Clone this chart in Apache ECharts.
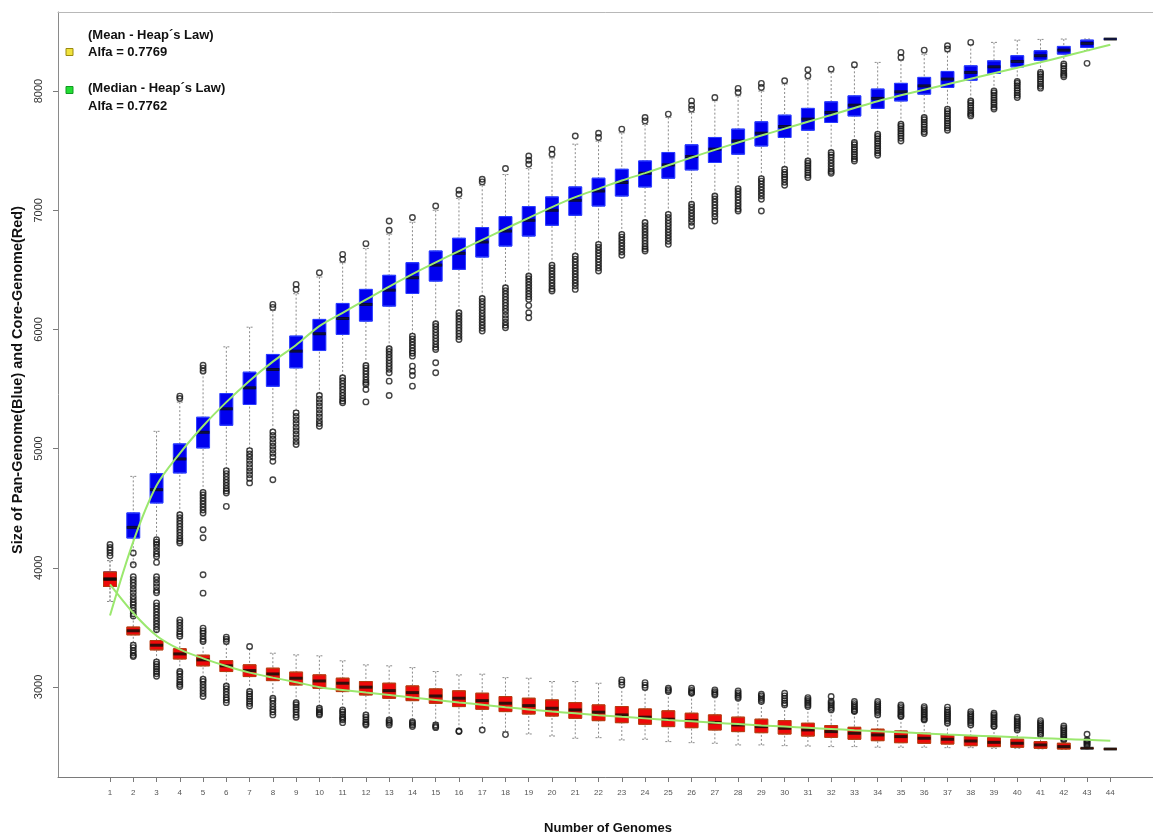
<!DOCTYPE html>
<html><head><meta charset="utf-8">
<script src="https://cdn.jsdelivr.net/npm/echarts@6/dist/echarts.min.js"></script>
<style>html,body{margin:0;padding:0;background:#fff;overflow:hidden}#c{width:1153px;height:834px}</style>
</head><body><div id="c"></div>
<script>
const genomes = [1,2,3,4,5,6,7,8,9,10,11,12,13,14,15,16,17,18,19,20,21,22,23,24,25,26,27,28,29,30,31,32,33,34,35,36,37,38,39,40,41,42,43,44];
const yTicks = [3000,4000,5000,6000,7000,8000];

// Pan-genome (blue) box statistics
const panMax = [4060,4767,5145,5390,5640,5854,6019,6160,6300,6440,6560,6680,6800,6900,7000,7100,7210,7300,7350,7440,7555,7580,7650,7720,7780,7820,7920,7960,8000,8060,8100,8160,8200,8241,8260,8310,8330,8390,8409,8428,8434,8437,8437,8437];
const panQ3  = [3964,4460,4790,5039,5263,5462,5641,5790,5944,6084,6218,6336,6454,6560,6658,6765,6855,6947,7031,7112,7196,7269,7344,7414,7485,7549,7611,7681,7742,7798,7855,7910,7960,8017,8065,8115,8165,8212,8254,8297,8339,8375,8428,8437];
const panMed = [3905,4339,4655,4913,5137,5334,5510,5664,5818,5964,6092,6210,6330,6434,6540,6639,6734,6826,6916,7000,7084,7162,7233,7311,7381,7451,7513,7582,7647,7703,7765,7821,7882,7939,7994,8044,8101,8157,8204,8249,8297,8344,8401,8437];
const panQ1  = [3843,4250,4544,4796,5006,5196,5370,5523,5678,5823,5958,6070,6196,6302,6406,6504,6608,6700,6784,6874,6958,7036,7120,7196,7269,7339,7401,7471,7540,7611,7672,7737,7792,7855,7918,7975,8031,8092,8149,8204,8260,8311,8367,8437];
const panMin = [3717,4030,4200,4460,4645,4830,5000,5155,5320,5460,5610,5710,5850,5960,6060,6155,6275,6365,6460,6550,6630,6730,6810,6910,6980,7060,7130,7195,7280,7360,7430,7500,7580,7650,7735,7790,7860,7930,8010,8090,8165,8235,8340,8437];

// Core-genome (red) box statistics
const coreMax = [4060,3590,3470,3410,3370,3360,3320,3283,3269,3261,3219,3185,3177,3162,3129,3101,3107,3078,3073,3045,3045,3031,3000,2975,2950,2935,2920,2895,2865,2840,2825,2800,2785,2755,2740,2715,2685,2670,2655,2630,2590,2545,2485,2479];
const coreQ3  = [3964,3502,3389,3320,3266,3221,3185,3157,3124,3101,3073,3045,3031,3008,2983,2967,2947,2919,2905,2891,2868,2849,2835,2815,2799,2779,2765,2746,2729,2717,2695,2675,2661,2645,2630,2611,2597,2583,2574,2561,2541,2527,2485,2479];
const coreMed = [3905,3471,3350,3277,3227,3177,3137,3109,3073,3050,3031,2998,2969,2952,2924,2905,2885,2863,2843,2821,2807,2788,2765,2746,2729,2717,2700,2681,2667,2653,2639,2625,2611,2597,2583,2569,2561,2546,2535,2527,2513,2499,2485,2479];
const coreQ1  = [3843,3437,3311,3235,3177,3129,3087,3053,3017,2989,2961,2933,2905,2885,2863,2835,2813,2793,2773,2756,2737,2717,2700,2687,2667,2658,2639,2625,2616,2605,2588,2577,2561,2549,2532,2527,2521,2507,2499,2494,2485,2479,2485,2479];
const coreMin = [3717,3370,3225,3140,3080,3020,2975,2915,2880,2835,2815,2780,2740,2720,2700,2645,2655,2625,2605,2588,2569,2574,2555,2561,2541,2532,2527,2513,2513,2507,2504,2499,2499,2494,2494,2494,2490,2490,2485,2485,2480,2479,2485,2479];

// Outliers per number of genomes
const panOutliers = [
[4,[5420,5440,4445,4420,4395,4370,4345,4320,4295,4270,4245,4225,4208]],
[5,[5650,5675,5700,4633,4610,4585,4560,4535,4510,4485,4460,4319,4252]],
[6,[4815,4790,4765,4740,4715,4690,4665,4645,4628,4515]],
[7,[4983,4955,4930,4900,4870,4840,4810,4780,4750,4712]],
[8,[6185,6210,5140,5110,5080,5050,5020,4990,4960,4930,4893,4739]],
[9,[6336,6378,5300,5270,5240,5210,5180,5150,5120,5090,5060,5034]],
[10,[6476,5445,5415,5385,5355,5325,5295,5265,5235,5210,5187]],
[11,[6588,6630,5594,5570,5545,5520,5495,5470,5445,5420,5400,5384]],
[12,[6720,5697,5675,5650,5625,5600,5575,5555,5538,5496,5392]],
[13,[6832,6910,5838,5815,5790,5765,5740,5715,5690,5665,5636,5566,5445]],
[14,[6939,5944,5920,5895,5870,5845,5820,5800,5776,5692,5650,5613,5524]],
[15,[7036,6048,6025,6000,5975,5950,5925,5900,5875,5850,5832,5720,5636]],
[16,[7134,7168,6140,6115,6090,6065,6040,6015,5990,5965,5940,5916]],
[17,[7238,7260,6260,6235,6210,6185,6160,6135,6110,6085,6060,6035,6010,5986]],
[18,[7350,6350,6325,6300,6275,6250,6225,6200,6175,6150,6120,6090,6060,6035,6014]],
[19,[7386,7420,7456,6448,6425,6400,6375,6350,6325,6300,6275,6252,6200,6140,6098]],
[20,[7470,7513,6540,6515,6490,6465,6440,6415,6390,6365,6340,6322]],
[21,[7624,6616,6590,6565,6540,6515,6490,6465,6440,6415,6390,6365,6336]],
[22,[7611,7647,6714,6690,6665,6640,6615,6590,6565,6540,6515,6490]],
[23,[7681,6798,6775,6750,6725,6700,6675,6650,6622]],
[24,[7750,7779,6897,6870,6845,6820,6795,6770,6745,6720,6695,6675,6658]],
[25,[7807,6966,6940,6915,6890,6865,6840,6815,6790,6765,6740,6714]],
[26,[7849,7880,7918,7050,7025,7000,6975,6950,6925,6900,6868]],
[27,[7947,7120,7095,7070,7045,7020,6995,6970,6945,6910]],
[28,[7989,8023,7182,7160,7135,7110,7085,7060,7035,7010,6994]],
[29,[8031,8065,7266,7245,7220,7195,7170,7145,7120,7092,6994]],
[30,[8087,7344,7320,7300,7280,7260,7235,7210]],
[31,[8128,8179,7414,7395,7375,7355,7335,7315,7295,7275]],
[32,[8185,7485,7465,7445,7420,7395,7370,7345,7325,7311]],
[33,[8221,7569,7550,7530,7510,7490,7470,7450,7430,7414]],
[34,[7639,7620,7600,7580,7560,7540,7520,7500,7480,7462]],
[35,[8283,8325,7723,7705,7685,7665,7645,7625,7605,7582]],
[36,[8344,7779,7760,7740,7720,7700,7680,7660,7644]],
[37,[8353,8381,7849,7830,7810,7790,7770,7750,7730,7710,7690,7672]],
[38,[8409,7918,7900,7880,7860,7840,7820,7805,7792]],
[39,[8002,7985,7965,7945,7925,7905,7885,7865,7849]],
[40,[8081,8065,8045,8025,8005,7985,7965,7947]],
[41,[8157,8140,8120,8100,8080,8060,8040,8025]],
[42,[8227,8210,8190,8170,8150,8135,8120]],
[43,[8233]]
];
const coreOutliers = [
[1,[4195,4170,4150,4125,4100]],
[2,[4124,4025,3925,3900,3875,3850,3820,3790,3760,3735,3710,3690,3665,3640,3615,3595,3350,3330,3305,3285,3265,3255]],
[3,[4235,4215,4195,4170,4140,4115,4095,4045,3925,3900,3870,3840,3810,3790,3705,3680,3655,3630,3605,3580,3555,3530,3505,3480,3210,3190,3170,3150,3130,3110,3090]],
[4,[3563,3540,3515,3490,3465,3445,3425,3129,3110,3085,3060,3040,3020,3003]],
[5,[3941,3787,3493,3470,3450,3425,3400,3381,3065,3045,3020,2995,2970,2945,2919]],
[6,[3418,3400,3381,3008,2985,2960,2935,2910,2890,2868]],
[7,[3339,2961,2940,2920,2900,2880,2860,2840]],
[8,[2905,2885,2860,2835,2810,2790,2765]],
[9,[2868,2850,2830,2810,2790,2765,2746]],
[10,[2821,2805,2790,2775,2765]],
[11,[2807,2790,2770,2750,2735,2723,2700]],
[12,[2765,2745,2725,2705,2690,2681]],
[13,[2723,2710,2695,2681]],
[14,[2709,2695,2680,2667]],
[15,[2680,2668,2658]],
[16,[2630,2625]],
[17,[2639]],
[18,[2600]],
[23,[3059,3040,3017]],
[24,[3036,3015,2995]],
[25,[2989,2975,2961]],
[26,[2989,2970,2955,2947]],
[27,[2975,2960,2945,2933]],
[28,[2967,2950,2935,2920,2905]],
[29,[2939,2925,2910,2895,2877]],
[30,[2947,2925,2905,2885,2865,2849]],
[31,[2910,2895,2880,2865,2850,2835]],
[32,[2919,2880,2865,2850,2835,2820,2807]],
[33,[2877,2860,2845,2830,2815,2800,2793]],
[34,[2877,2860,2845,2830,2815,2800,2785,2765]],
[35,[2849,2835,2820,2805,2790,2775,2760,2751]],
[36,[2835,2820,2805,2790,2775,2760,2745,2730,2723]],
[37,[2830,2807,2790,2775,2760,2745,2730,2715,2695]],
[38,[2793,2775,2760,2745,2730,2715,2700,2681]],
[39,[2779,2765,2750,2735,2720,2705,2690,2675,2667]],
[40,[2746,2730,2715,2700,2685,2670,2655,2639]],
[41,[2717,2700,2685,2670,2655,2640,2625,2610,2597]],
[42,[2672,2655,2640,2625,2610,2595,2580,2565,2555]],
[43,[2603,2555,2545,2535,2525,2515,2505]]
];

// Heap's law fitted curves
const panFit  = [3600,4220,4690,4960,5190,5390,5570,5730,5870,6028,6140,6250,6360,6465,6563,6658,6752,6845,6937,7027,7110,7180,7250,7312,7378,7443,7507,7569,7627,7685,7743,7800,7858,7915,7965,8012,8058,8104,8150,8196,8242,8290,8340,8389];
const coreFit = [3860,3620,3430,3315,3240,3175,3120,3078,3040,2998,2975,2953,2932,2911,2891,2870,2850,2830,2811,2793,2778,2763,2749,2736,2723,2711,2699,2688,2677,2667,2657,2647,2637,2628,2619,2610,2601,2593,2585,2577,2570,2563,2556,2549];

const FONT = "'Liberation Sans', Arial, sans-serif";
const xMin = -1.236, xMax = 46.05;

function whiskerRows(mn,q1,md,q3,mx){return genomes.map((g,i)=>[g,mn[i],q1[i],md[i],q3[i],mx[i]]);}
function boxRows(q1,md,q3){return genomes.map((g,i)=>[g,q1[i],q1[i],md[i],q3[i],q3[i]]);}
function medRows(md){return genomes.map((g,i)=>[g,md[i]]);}
function outRows(list){const r=[];list.forEach(([g,vs])=>vs.forEach(v=>r.push([g,v])));return r;}
function fitRows(f){return genomes.map((g,i)=>[g,f[i]]);}
function hiddenX(){return {type:'value', min:xMin, max:xMax, show:false, position:'bottom'};}

const whiskerStyle = {color:'rgba(0,0,0,0)', borderColor:'#8a8a8a', borderWidth:1, borderType:[2,2]};
const outStyle = {color:'rgba(0,0,0,0)', borderColor:'#161616', borderWidth:1.4};
const LEG = "bold 13px 'Liberation Sans', Arial, sans-serif";

const chart = echarts.init(document.getElementById('c'), null, {renderer:'canvas', width:1153, height:834});
chart.setOption({
  animation:false,
  backgroundColor:'#fff',
  textStyle:{fontFamily:FONT},
  grid:{left:58, top:12, right:-5, bottom:57, containLabel:false, outerBoundsMode:'none'},
  xAxis:[{
    type:'value', min:xMin, max:xMax, position:'bottom',
    name:'Number of Genomes', nameLocation:'middle', nameGap:45,
    nameTextStyle:{fontFamily:FONT, fontWeight:'bold', fontSize:13, color:'#111'},
    axisLine:{show:true, onZero:false, lineStyle:{color:'#7a7a7a', width:1}},
    axisTick:{show:true, length:5, customValues:genomes, lineStyle:{color:'#7a7a7a'}},
    axisLabel:{show:true, customValues:genomes, fontSize:8, color:'#555', margin:12, fontFamily:FONT},
    splitLine:{show:false}
  },{
    type:'value', min:xMin, max:xMax, position:'top',
    axisLine:{show:true, onZero:false, lineStyle:{color:'#b8b8b8', width:1}},
    axisTick:{show:false}, axisLabel:{show:false}, splitLine:{show:false}
  }, hiddenX(), hiddenX(), hiddenX(), hiddenX()],
  yAxis:{
    type:'value', min:2244, max:8664,
    axisLine:{show:true, onZero:false, lineStyle:{color:'#8a8a8a', width:1}},
    axisTick:{show:true, length:5, customValues:yTicks, lineStyle:{color:'#7a7a7a'}},
    axisLabel:{show:true, customValues:yTicks, rotate:90, fontSize:11, color:'#333', margin:14, fontFamily:FONT, formatter:(v)=>String(v)},
    splitLine:{show:false}
  },
  series:[
    {type:'boxplot', layout:'horizontal', xAxisIndex:2, name:'panWhisker', data:whiskerRows(panMin,panQ1,panMed,panQ3,panMax), boxWidth:[6,6], itemStyle:whiskerStyle, silent:true},
    {type:'boxplot', layout:'horizontal', xAxisIndex:3, name:'coreWhisker', data:whiskerRows(coreMin,coreQ1,coreMed,coreQ3,coreMax), boxWidth:[6,6], itemStyle:whiskerStyle, silent:true},
    {type:'scatter', name:'panOut', data:outRows(panOutliers), symbol:'circle', symbolSize:5.5, itemStyle:outStyle, silent:true},
    {type:'scatter', name:'coreOut', data:outRows(coreOutliers), symbol:'circle', symbolSize:5.5, itemStyle:outStyle, silent:true},
    {type:'boxplot', layout:'horizontal', xAxisIndex:4, name:'panBox', data:boxRows(panQ1,panMed,panQ3), boxWidth:[13,13], itemStyle:{color:'#0000ee', borderColor:'#2a3cff', borderWidth:1}, silent:true},
    {type:'boxplot', layout:'horizontal', xAxisIndex:5, name:'coreBox', data:boxRows(coreQ1,coreMed,coreQ3), boxWidth:[13,13], itemStyle:{color:'#ee0a0a', borderColor:'#b83a10', borderWidth:1}, silent:true},
    {type:'scatter', name:'panMedian', data:medRows(panMed), symbol:'rect', symbolSize:[13,3], itemStyle:{color:'#0a0a0a'}, silent:true},
    {type:'scatter', name:'coreMedian', data:medRows(coreMed), symbol:'rect', symbolSize:[13,3], itemStyle:{color:'#0a0a0a'}, silent:true},
    {type:'line', name:'panFit', data:fitRows(panFit), smooth:0.3, showSymbol:false, lineStyle:{color:'#9be86e', width:2}, silent:true},
    {type:'line', name:'coreFit', data:fitRows(coreFit), smooth:0.3, showSymbol:false, lineStyle:{color:'#9be86e', width:2}, silent:true}
  ],
  graphic:[
    {type:'text', x:18, y:380, rotation:Math.PI/2, style:{text:'Size of Pan-Genome(Blue) and Core-Genome(Red)', font:"bold 14.5px 'Liberation Sans', Arial, sans-serif", fill:'#111', align:'center', verticalAlign:'middle'}},
    {type:'rect', shape:{x:66, y:48.5, width:7, height:7}, style:{fill:'#f0e23c', stroke:'#9a8a10', lineWidth:1}},
    {type:'text', x:88, y:35, style:{text:'(Mean - Heap´s Law)', font:LEG, fill:'#111', verticalAlign:'middle'}},
    {type:'text', x:88, y:52, style:{text:'Alfa = 0.7769', font:LEG, fill:'#111', verticalAlign:'middle'}},
    {type:'rect', shape:{x:66, y:86.5, width:7, height:7}, style:{fill:'#22dd33', stroke:'#119922', lineWidth:1}},
    {type:'text', x:88, y:88, style:{text:'(Median - Heap´s Law)', font:LEG, fill:'#111', verticalAlign:'middle'}},
    {type:'text', x:88, y:106, style:{text:'Alfa = 0.7762', font:LEG, fill:'#111', verticalAlign:'middle'}}
  ]
});
</script>
</body></html>
